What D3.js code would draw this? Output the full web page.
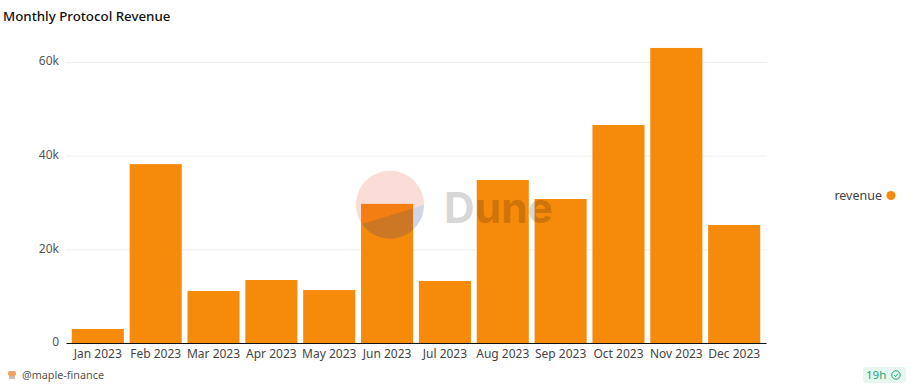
<!DOCTYPE html>
<html>
<head>
<meta charset="utf-8">
<script src="https://cdn.jsdelivr.net/npm/d3@7"></script>
<style>
  html, body { margin: 0; padding: 0; background: #fff; }
  svg { display: block; font-family: "Noto Sans", sans-serif; }
  .x-axis, .y-axis { font-family: "Noto Sans", sans-serif; }
  .y-axis .domain, .y-axis .tick line { display: none; }
  .x-axis .tick line { display: none; }
</style>
</head>
<body>
<svg id="chart" width="912" height="387"></svg>
<script>
const months = ["Jan 2023", "Feb 2023", "Mar 2023", "Apr 2023", "May 2023", "Jun 2023",
    "Jul 2023", "Aug 2023", "Sep 2023", "Oct 2023", "Nov 2023", "Dec 2023"];
const revenue = [3000, 38200, 11100, 13450, 11300, 29700, 13250, 34800, 30750, 46550, 63000, 25200];
const yTicks = [0, 20000, 40000, 60000];
const seriesName = "revenue";
const titleText = "Monthly Protocol Revenue";
const ownerText = "@maple-finance";
const ageText = "19h";

const orange = "#f68a0a";
const svg = d3.select("#chart");

const xScale = d3.scaleBand()
    .domain(months)
    .range([66, 766])
    .padding(0.1);

const yScale = d3.scaleLinear()
    .domain([0, 60000])
    .range([343, 62]);

// gridlines sit behind the bars
svg.selectAll(".grid")
    .data(yTicks.filter(d => d > 0))
    .join("line")
    .attr("class", "grid")
    .attr("x1", 66)
    .attr("x2", 767)
    .attr("y1", d => yScale(d) + 0.5)
    .attr("y2", d => yScale(d) + 0.5)
    .attr("stroke", "#eeeeee");

svg.selectAll(".bar")
    .data(revenue)
    .join("rect")
    .attr("class", "bar")
    .attr("x", (d, i) => xScale(months[i]))
    .attr("y", d => yScale(d))
    .attr("width", xScale.bandwidth())
    .attr("height", d => yScale(0) - yScale(d))
    .attr("fill", orange);

// AXES
const xAxis = svg.append("g")
    .attr("class", "x-axis")
    .attr("transform", "translate(0,343)")
    .call(d3.axisBottom(xScale).tickSize(0).tickSizeOuter(0).tickPadding(6));
xAxis.select(".domain").attr("stroke", "#111").attr("stroke-width", 1.2);
xAxis.selectAll("text").attr("font-size", 12).attr("fill", "#444");

const yAxis = svg.append("g")
    .attr("class", "y-axis")
    .attr("transform", "translate(59,-1)")
    .call(d3.axisLeft(yScale).tickValues(yTicks).tickSize(0).tickPadding(0)
        .tickFormat(d => d === 0 ? "0" : (d / 1000) + "k"));
yAxis.selectAll("text").attr("font-size", 12).attr("fill", "#555");

// WATERMARK, translucent over the bars
const mark = svg.append("g");
mark.append("path")
    .attr("d", "M362 224 L424 205 A34 34 0 1 0 362 224 Z")
    .attr("fill", "rgb(240,80,50)")
    .attr("fill-opacity", 0.2);
mark.append("path")
    .attr("d", "M362 224 L424 205 A34 34 0 0 1 362 224 Z")
    .attr("fill", "rgb(50,55,132)")
    .attr("fill-opacity", 0.22);
mark.append("text")
    .attr("x", 444).attr("y", 222.5)
    .attr("font-family", "Inter, sans-serif")
    .attr("font-size", 42.5)
    .attr("font-weight", 700)
    .attr("fill", "#000")
    .attr("fill-opacity", 0.17)
    .text("Dune");

// TITLE
svg.append("text")
    .attr("x", 3).attr("y", 21)
    .attr("font-size", 13.3)
    .attr("font-weight", 500)
    .attr("fill", "#111")
    .text(titleText);

// LEGEND
svg.append("text")
    .attr("x", 882).attr("y", 200)
    .attr("text-anchor", "end")
    .attr("font-size", 12.5)
    .attr("fill", "#444")
    .text(seriesName);
svg.append("circle")
    .attr("cx", 891).attr("cy", 195.5).attr("r", 4.5)
    .attr("fill", orange);

// FOOTER
const avatar = svg.append("g");
avatar.append("rect").attr("x", 8).attr("y", 371).attr("width", 8).attr("height", 5).attr("rx", 2).attr("fill", "#f5a060");
avatar.append("rect").attr("x", 9).attr("y", 376).attr("width", 6).attr("height", 3).attr("fill", "#c4bfb0");
svg.append("text")
    .attr("x", 22).attr("y", 379)
    .attr("font-size", 10.8)
    .attr("fill", "#555")
    .text(ownerText);

svg.append("rect")
    .attr("x", 863).attr("y", 367).attr("width", 43).attr("height", 16).attr("rx", 3)
    .attr("fill", "#e6f7ef");
svg.append("text")
    .attr("x", 866).attr("y", 379)
    .attr("font-size", 11.5)
    .attr("fill", "#22a57c")
    .text(ageText);
svg.append("circle")
    .attr("cx", 896).attr("cy", 375).attr("r", 4.2)
    .attr("fill", "none").attr("stroke", "#22a57c");
svg.append("path")
    .attr("d", "M894 375 l1.5 1.5 l2.5 -3")
    .attr("fill", "none").attr("stroke", "#22a57c");
</script>
</body>
</html>
